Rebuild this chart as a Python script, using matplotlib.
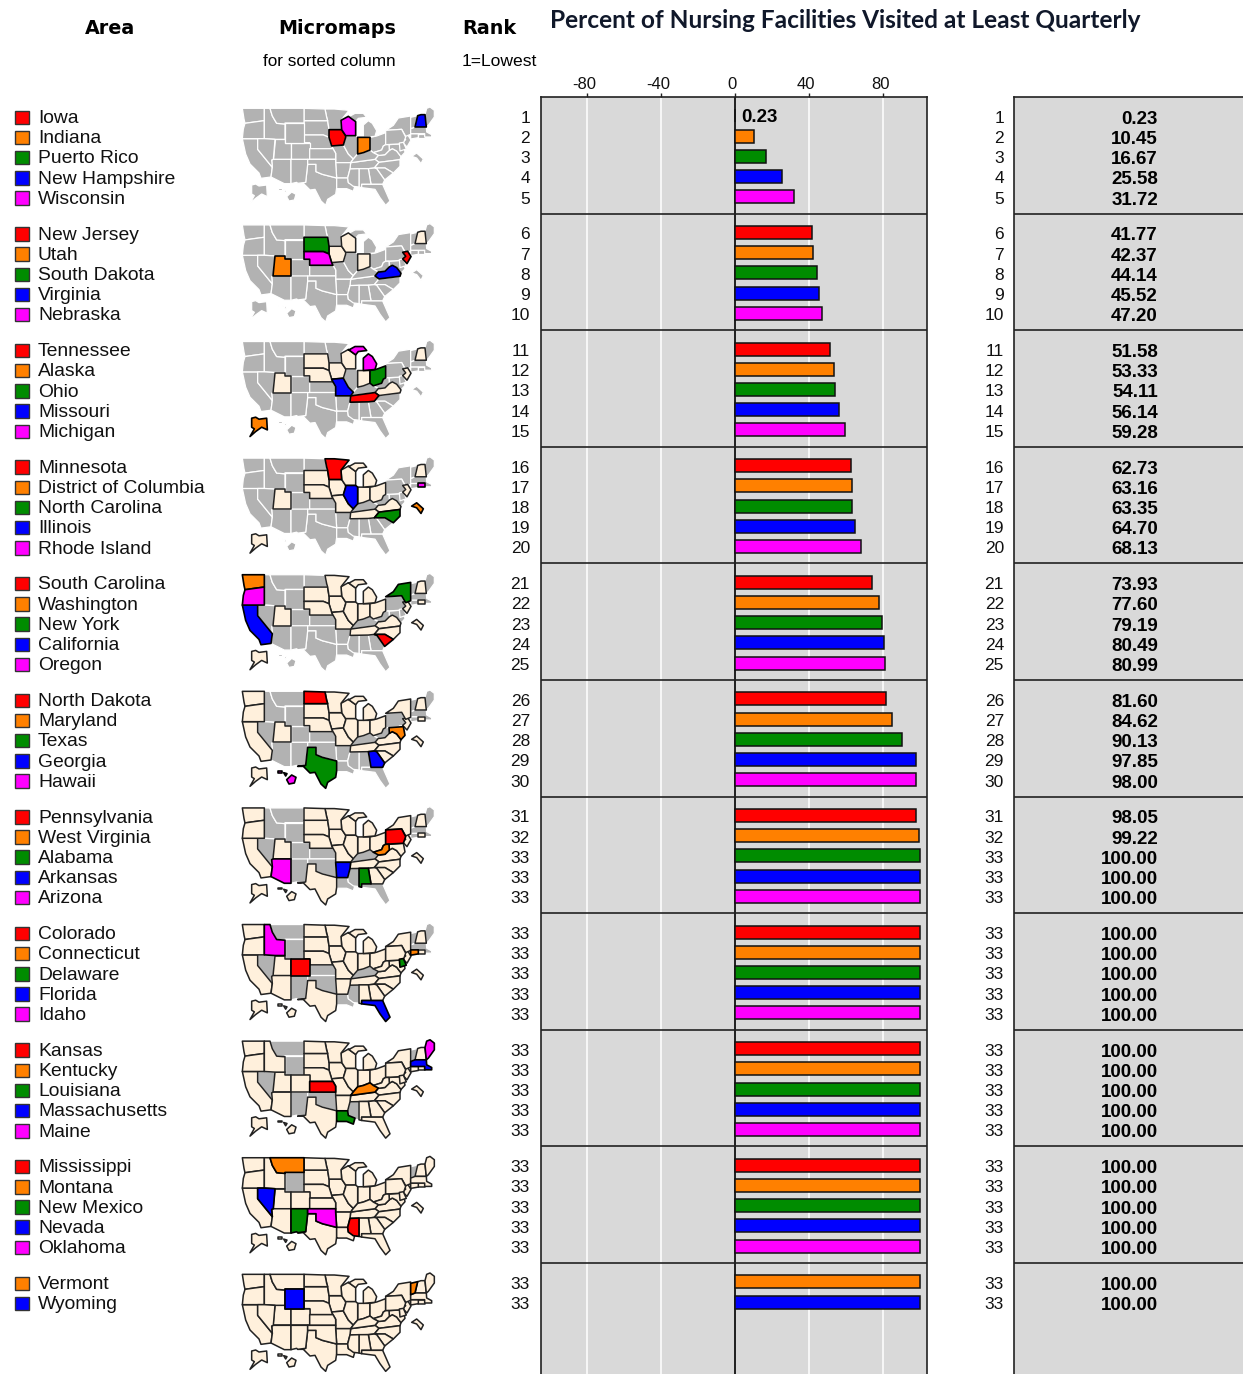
"""
Linked micromap of nursing facility visits: area names, small US maps, ranks,
bars and a table of the values.
"""
import matplotlib
matplotlib.use("Agg")
import matplotlib.pyplot as plt
from matplotlib.patches import Polygon, Rectangle
from matplotlib.transforms import ScaledTranslation

W, H = 1243, 1374

AREAS = [
    "Iowa", "Indiana", "Puerto Rico", "New Hampshire", "Wisconsin",
    "New Jersey", "Utah", "South Dakota", "Virginia", "Nebraska",
    "Tennessee", "Alaska", "Ohio", "Missouri", "Michigan",
    "Minnesota", "District of Columbia", "North Carolina", "Illinois", "Rhode Island",
    "South Carolina", "Washington", "New York", "California", "Oregon",
    "North Dakota", "Maryland", "Texas", "Georgia", "Hawaii",
    "Pennsylvania", "West Virginia", "Alabama", "Arkansas", "Arizona",
    "Colorado", "Connecticut", "Delaware", "Florida", "Idaho",
    "Kansas", "Kentucky", "Louisiana", "Massachusetts", "Maine",
    "Mississippi", "Montana", "New Mexico", "Nevada", "Oklahoma",
    "Vermont", "Wyoming",
]
RANKS = list(range(1, 33)) + [33] * 20
VALUES = [
    0.23, 10.45, 16.67, 25.58, 31.72,
    41.77, 42.37, 44.14, 45.52, 47.20,
    51.58, 53.33, 54.11, 56.14, 59.28,
    62.73, 63.16, 63.35, 64.70, 68.13,
    73.93, 77.60, 79.19, 80.49, 80.99,
    81.60, 84.62, 90.13, 97.85, 98.00,
    98.05, 99.22, 100.00, 100.00, 100.00,
    100.00, 100.00, 100.00, 100.00, 100.00,
    100.00, 100.00, 100.00, 100.00, 100.00,
    100.00, 100.00, 100.00, 100.00, 100.00,
    100.00, 100.00,
]
TICKS = [-80, -40, 0, 40, 80]
TICK_LABELS = ["-80", "-40", "0", "40", "80"]
PANEL_COLORS = ["#FF0000", "#FF8000", "#008C00", "#0000FF", "#FF00FF"]
LAST_PANEL_COLORS = ["#FF8000", "#0000FF"]

# state outlines, traced in a 630x327 map frame (3 units per pixel)
SHAPES = {
    "Washington": [[(22, 28), (88, 28), (88, 65), (58, 69), (30, 73), (27, 60)]],
    "Oregon": [[(30, 73), (58, 69), (88, 65), (88, 119), (22, 119), (25, 90)]],
    "California": [[(22, 119), (68, 119), (68, 151), (112, 205), (108, 234), (78, 238), (72, 222), (45, 195), (32, 165)]],
    "Nevada": [[(68, 119), (88, 119), (120, 121), (115, 181), (110, 183), (112, 205), (68, 151)]],
    "Idaho": [[(88, 28), (105, 28), (112, 51), (125, 73), (150, 75), (150, 121), (120, 121), (88, 119)]],
    "Montana": [[(105, 28), (207, 28), (207, 72), (150, 72), (150, 75), (125, 73), (112, 51)]],
    "Wyoming": [[(150, 72), (207, 72), (207, 131), (150, 131)]],
    "Utah": [[(120, 121), (150, 121), (150, 131), (168, 131), (168, 181), (115, 181)]],
    "Arizona": [[(115, 181), (168, 181), (168, 254), (148, 254), (108, 234), (112, 205), (110, 183)]],
    "Colorado": [[(168, 131), (224, 131), (224, 181), (168, 181)]],
    "New Mexico": [[(168, 181), (218, 181), (218, 196), (212, 250), (188, 253), (185, 250), (168, 254)]],
    "North Dakota": [[(207, 28), (270, 30), (275, 55), (278, 65), (207, 65)]],
    "South Dakota": [[(207, 65), (278, 65), (282, 92), (282, 115), (265, 108), (207, 108)]],
    "Nebraska": [[(207, 108), (265, 108), (282, 115), (290, 141), (294, 149), (224, 149), (224, 131), (207, 131)]],
    "Kansas": [[(224, 149), (294, 149), (302, 163), (302, 181), (224, 181)]],
    "Oklahoma": [[(218, 181), (302, 181), (302, 191), (305, 237), (262, 226), (243, 218), (243, 196), (218, 196)]],
    "Texas": [[(218, 196), (243, 196), (243, 218), (262, 226), (305, 237), (305, 266), (302, 286), (278, 301), (272, 319), (258, 306), (240, 271), (225, 273), (205, 253), (188, 253), (212, 250)]],
    "Minnesota": [[(270, 30), (298, 30), (342, 34), (318, 64), (320, 92), (282, 92), (278, 65), (275, 55)]],
    "Iowa": [[(282, 92), (320, 92), (332, 110), (332, 115), (325, 138), (290, 141), (282, 115)]],
    "Missouri": [[(290, 141), (325, 138), (340, 165), (355, 180), (347, 191), (302, 191), (302, 163), (294, 149)]],
    "Arkansas": [[(302, 191), (347, 191), (345, 210), (338, 237), (305, 237)]],
    "Louisiana": [[(305, 237), (338, 237), (340, 251), (360, 259), (355, 277), (335, 269), (305, 269), (305, 266)]],
    "Wisconsin": [[(318, 64), (340, 52), (362, 68), (362, 110), (332, 110), (320, 92)]],
    "Illinois": [[(332, 110), (362, 110), (368, 115), (368, 165), (355, 180), (340, 165), (325, 138), (332, 115)]],
    "Indiana": [[(368, 115), (405, 115), (405, 153), (385, 161), (368, 165)]],
    "Ohio": [[(405, 115), (425, 111), (452, 101), (452, 137), (445, 141), (440, 153), (415, 161), (405, 153)]],
    "Michigan": [[(385, 78), (400, 65), (412, 73), (425, 95), (420, 112), (385, 115)],
                 [(342, 53), (360, 43), (385, 43), (395, 55), (370, 58), (362, 68), (340, 52)]],
    "Kentucky": [[(355, 180), (368, 165), (385, 161), (405, 153), (415, 161), (430, 169), (420, 181), (347, 191)]],
    "Tennessee": [[(347, 191), (420, 181), (432, 190), (418, 207), (400, 209), (345, 210)]],
    "Mississippi": [[(345, 210), (372, 209), (372, 264), (355, 262), (340, 251), (338, 237)]],
    "Alabama": [[(372, 209), (400, 209), (408, 256), (380, 256), (380, 266), (372, 264)]],
    "Georgia": [[(400, 209), (418, 207), (425, 209), (449, 243), (443, 256), (408, 256)]],
    "Florida": [[(380, 256), (408, 256), (443, 256), (465, 306), (452, 319), (435, 296), (420, 271), (380, 266)]],
    "South Carolina": [[(418, 207), (450, 207), (475, 222), (449, 243), (425, 209)]],
    "North Carolina": [[(418, 207), (432, 190), (495, 182), (495, 202), (475, 222), (450, 207)]],
    "Virginia": [[(420, 181), (430, 169), (435, 169), (450, 167), (463, 154), (472, 149), (485, 156), (498, 173), (495, 182), (432, 190)]],
    "West Virginia": [[(415, 161), (440, 153), (445, 141), (452, 137), (462, 137), (463, 154), (450, 167), (435, 169), (430, 169)]],
    "Pennsylvania": [[(452, 94), (500, 91), (512, 114), (505, 134), (452, 137)]],
    "Maryland": [[(462, 137), (505, 134), (510, 160), (498, 173), (485, 156), (472, 149), (463, 154)]],
    "Delaware": [[(493, 132), (505, 130), (514, 150), (495, 156)]],
    "New Jersey": [[(503, 110), (518, 107), (528, 123), (516, 144), (503, 130), (512, 122)]],
    "New York": [[(452, 94), (475, 79), (490, 57), (527, 51), (527, 89), (527, 106), (512, 112), (500, 91)]],
    "Vermont": [[(527, 55), (548, 50), (540, 84), (527, 89)]],
    "New Hampshire": [[(548, 50), (558, 47), (570, 47), (574, 84), (540, 84)]],
    "Maine": [[(570, 47), (575, 28), (585, 24), (598, 34), (598, 54), (580, 79), (574, 84)]],
    "Massachusetts": [[(527, 89), (540, 84), (574, 84), (575, 99), (590, 107), (590, 114), (569, 114), (569, 104), (527, 104)]],
    "Connecticut": [[(527, 104), (550, 104), (550, 116), (527, 120)]],
    "Rhode Island": [[(550, 104), (569, 104), (569, 116), (550, 116)]],
    "District of Columbia": [[(530, 172), (545, 162), (565, 180), (558, 194), (545, 177)]],
    "Alaska": [[(50, 258), (62, 255), (72, 261), (95, 258), (97, 293), (80, 285), (62, 298), (45, 313), (58, 290), (50, 285)]],
    "Hawaii": [[(128, 267), (142, 267), (142, 272), (128, 272)], [(146, 272), (156, 275), (152, 282)],
               [(155, 293), (170, 279), (183, 286), (178, 303), (162, 306)]],
}

GRAY = "#B2B2B2"
CREAM = "#FFF0DC"
PANEL_BG = "#D9D9D9"
PANEL_TOP = 97.0
PANEL_STEP = 116.6
ROW_STEP = 20.2
SANS = ["Liberation Sans", "DejaVu Sans"]


def px_axes(fig, left, top, right, bottom):
    return fig.add_axes([left / W, 1 - bottom / H, (right - left) / W, (bottom - top) / H])


def draw_map(ax, panel, panels):
    x0, y0 = 235.0, 1265.0 - (10 - panel) * PANEL_STEP
    done = [a for p in panels[:panel] for a, _ in p]
    now = dict(panels[panel])
    todo = [a for p in panels[panel + 1:] for a, _ in p]
    layers = [(todo, GRAY, "white", 0.9, 3), (done, CREAM, "#222222", 1.1, 4)]
    for names, fill, edge, lw, z in layers:
        for name in names:
            for outline in SHAPES.get(name, []):
                pts = [(x0 + x / 3, y0 + y / 3) for x, y in outline]
                ax.add_patch(Polygon(pts, closed=True, fc=fill, ec=edge, lw=lw, zorder=z, joinstyle="round"))
    for name, color in now.items():
        for outline in SHAPES.get(name, []):
            pts = [(x0 + x / 3, y0 + y / 3) for x, y in outline]
            ax.add_patch(Polygon(pts, closed=True, fc=color, ec="black", lw=1.2, zorder=5, joinstyle="round"))


def main():
    fig = plt.figure(figsize=(W / 100, H / 100), dpi=100, facecolor="white")

    # full figure layer in pixel units for the names, maps and headers
    page = fig.add_axes([0, 0, 1, 1])
    page.set_xlim(0, W)
    page.set_ylim(H, 0)
    page.axis("off")
    page.set_zorder(10)

    page.text(110, 29, "Area", ha="center", va="center", fontsize=13.8, fontweight="bold", family=["DejaVu Sans"])
    page.text(337, 29, "Micromaps", ha="center", va="center", fontsize=13.8, fontweight="bold", family=["DejaVu Sans"])
    page.text(489, 29, "Rank", ha="center", va="center", fontsize=13.8, fontweight="bold", family=["DejaVu Sans"])
    page.text(329, 61.5, "for sorted column", ha="center", va="center", fontsize=12.3, family=SANS)
    page.text(499, 61.5, "1=Lowest", ha="center", va="center", fontsize=12.6, family=SANS)
    page.text(550, 20, "Percent of Nursing Facilities Visited at Least Quarterly", ha="left", va="center",
              fontsize=17.55, fontweight="bold", family=["Lato", "Open Sans"], color="#10182a")

    # bar panel
    ax = px_axes(fig, 541, PANEL_TOP, 927, H + 1)
    px_per_unit = 1.85
    ax.set_xlim((541 - 735) / px_per_unit, (927 - 735) / px_per_unit)
    ax.set_ylim(H + 1, PANEL_TOP)
    ax.set_facecolor(PANEL_BG)
    ax.set_xticks(TICKS, TICK_LABELS)
    ax.set_yticks([])
    ax.xaxis.tick_top()
    ax.tick_params(axis="x", length=3, width=1, labelsize=12, pad=1.5, color="#222222", labelcolor="#111111")
    nudge = ScaledTranslation(-0.03, -0.01, fig.dpi_scale_trans)
    for lab in ax.get_xticklabels():
        lab.set_family(SANS)
        lab.set_transform(lab.get_transform() + nudge)
    for t in TICKS:
        if t != 0:
            ax.axvline(t, color="white", lw=1.1, zorder=1)
    ax.axvline(0, color="black", lw=1.2, zorder=2)

    # value table panel, runs off the right edge like the source
    tab = px_axes(fig, 1014, PANEL_TOP, 1300, H + 1)
    tab.set_xlim(1014, 1300)
    tab.set_ylim(H + 1, PANEL_TOP)
    tab.set_facecolor(PANEL_BG)
    tab.set_xticks([])
    tab.set_yticks([])

    for a in (ax, tab):
        a.spines["bottom"].set_visible(False)
        for s in ("top", "left", "right"):
            a.spines[s].set_linewidth(1.2)
            a.spines[s].set_color("#222222")
        for k in range(1, 11):
            a.axhline(PANEL_TOP + k * PANEL_STEP, color="#222222", lw=1.2, zorder=3)

    # split into linked panels of five, the last one holds two
    panels = []
    n_panels = 11
    for p in range(n_panels):
        names = AREAS[p * 5:(p + 1) * 5]
        colors = PANEL_COLORS if p < n_panels - 1 else LAST_PANEL_COLORS
        panels.append(list(zip(names, colors)))

    for p in range(n_panels):
        draw_map(page, p, panels)
        for r, (name, color) in enumerate(panels[p]):
            i = p * 5 + r
            y = PANEL_TOP + 20.3 + p * PANEL_STEP + r * ROW_STEP
            page.add_patch(Rectangle((15, y - 6.8), 14, 13.5, fc=color, ec="#333333", lw=1))
            page.text(38, y + 1.2, name, ha="left", va="center", fontsize=13.9, family=SANS, color="#111111")
            page.text(530, y + 1, str(RANKS[i]), ha="right", va="center", fontsize=12.5, family=SANS, color="#111111")
            page.text(1004, y + 1, str(RANKS[i]), ha="right", va="center", fontsize=12.5, family=SANS, color="#111111")
            page.text(1158, y + 2, f"{VALUES[i]:.2f}", ha="right", va="center", fontsize=13.5,
                      fontweight="bold", family=SANS, color="black")
            ax.barh(y - 1.4, VALUES[i], height=13, color=color, edgecolor="#111111", linewidth=1.1, zorder=4)

    # the smallest bar is too short to read, so the value sits beside it
    ax.text(3.2, PANEL_TOP + 21, f"{VALUES[0]:.2f}", ha="left", va="center", fontsize=13.5,
            fontweight="bold", family=SANS, color="black", zorder=6)

    fig.savefig("out.png", dpi=100, facecolor="white")
    plt.close(fig)


if __name__ == "__main__":
    main()
